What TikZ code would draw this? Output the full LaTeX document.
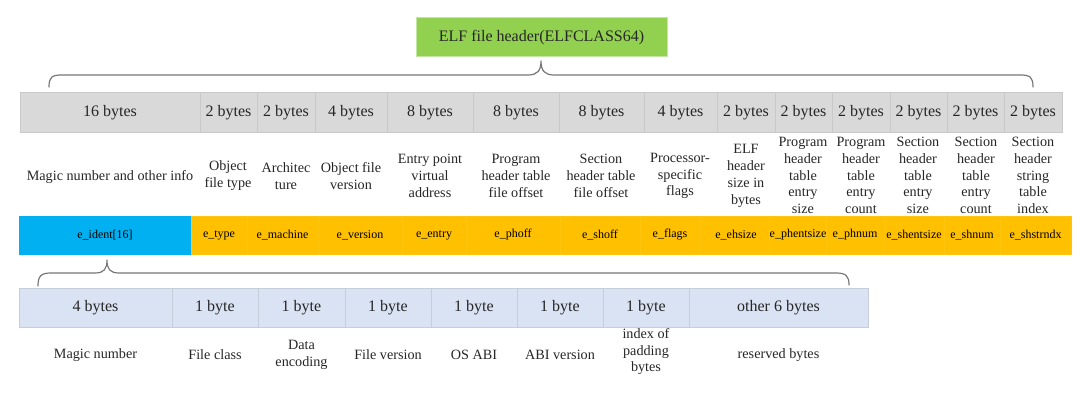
\documentclass[tikz,border=0pt]{standalone}
\usepackage{fontspec}
\setmainfont{Liberation Serif}
\definecolor{greyfill}{HTML}{D9D9D9}
\definecolor{greyline}{HTML}{C9C9C9}
\definecolor{yel}{HTML}{FFC000}
\definecolor{yelline}{HTML}{FFC50F}
\definecolor{cyanfill}{HTML}{00B0F0}
\definecolor{greenfill}{HTML}{92D050}
\definecolor{greenline}{HTML}{C4E6A4}
\definecolor{paleblue}{HTML}{DAE3F3}
\definecolor{palebline}{HTML}{C6CEDC}
\definecolor{txt}{HTML}{262626}
\definecolor{bracecol}{HTML}{767676}
\begin{document}
\begin{tikzpicture}[x=1pt,y=-1pt,
  cell/.style={rectangle, inner sep=0pt, outer sep=0pt, line width=0.6pt, text=txt},
  sizefont/.style={font=\fontsize{16}{19}\selectfont},
  descfont/.style={font=\fontsize{14.2}{16.8}\selectfont, align=center, text=txt, inner sep=0pt},
  fieldfont/.style={font=\fontsize{12}{14}\selectfont, text=black},
  brace/.style={draw=bracecol, line width=1.2pt, line cap=round, line join=round},
  titlebox/.style={rectangle, fill=greenfill, draw=greenline, line width=0.6pt, inner sep=0pt,
    minimum width=251pt, minimum height=39pt, font=\fontsize{16}{19}\selectfont, text=txt}]
\path[use as bounding box] (0,0) rectangle (1080,401);

% title
\node[titlebox] (title) at (541.5,37.2) {ELF file header(ELFCLASS64)};

% top brace
\coordinate (tbl) at (49,87);
\coordinate (tbt) at (541,61);
\coordinate (tbr) at (1033,87);
\draw[brace] (tbl) .. controls (49,77) and (52,75) .. (62,75) -- (528,75)
  .. controls (537,75) and (541,71) .. (tbt)
  .. controls (541,71) and (545,75) .. (554,75) -- (1020,75)
  .. controls (1030,75) and (1033,77) .. (tbr);

% size row
\foreach \a/\b/\t [count=\i] in {20/200/16 bytes,200/257/2 bytes,257/315/2 bytes,315/387/4 bytes,
  387/473/8 bytes,473/559/8 bytes,559/644/8 bytes,644/717/4 bytes,717/775/2 bytes,775/832/2 bytes,
  832/890/2 bytes,890/947/2 bytes,947/1004/2 bytes,1004/1062/2 bytes}
  \node[cell, sizefont, fill=greyfill, draw=greyline, minimum width={(\b-\a)*1pt},
        minimum height=39.5pt] (g\i) at ({(\a+\b)/2},112.25) {\t};

% field row
\node[cell, fieldfont, fill=cyanfill, draw=cyanfill, minimum width=172pt, minimum height=38pt]
  (f0) at (105,235) {e\_ident[16]};
\foreach \a/\b/\t [count=\i] in {191/247/e\_type,247/318/e\_machine,318/402/e\_version,
  402/466/e\_entry,466/560/e\_phoff,560/640/e\_shoff,640/700/e\_flags,700/772/e\_ehsize,
  770/826/e\_phentsize,826/884/e\_phnum,884/944/e\_shentsize,944/1000/e\_shnum,1000/1071/e\_shstrndx}
  \node[cell, fieldfont, fill=yel, draw=yelline, minimum width={(\b-\a)*1pt},
        minimum height=38pt] (f\i) at ({(\a+\b)/2},235) {\t};

% description row
\foreach \c/\yy/\t [count=\i] in {110/177/{Magic number and other info},
  228/176/{Object\\file type}, 286/176/{Architec\\ture}, 351/176/{Object file\\version},
  430/176/{Entry point\\virtual\\address}, 516/176/{Program\\header table\\file offset},
  601/176/{Section\\header table\\file offset}, 680/176/{Processor-\\specific\\flags},
  746/176/{ELF\\header\\size in\\bytes}, 803/175.5/{Program\\header\\table\\entry\\size},
  861/175.5/{Program\\header\\table\\entry\\count}, 918/175.5/{Section\\header\\table\\entry\\size},
  976/175.5/{Section\\header\\table\\entry\\count}, 1033/175.5/{Section\\header\\string\\table\\index}}
  \node[descfont] (d\i) at (\c,\yy) {\t};

% bottom brace
\coordinate (bbl) at (38,286);
\coordinate (bbt) at (107,260);
\coordinate (bbr) at (849,285);
\draw[brace] (bbl) .. controls (38,276) and (41,273) .. (51,273) -- (95,273)
  .. controls (104,273) and (107,269) .. (bbt)
  .. controls (107,269) and (110,273) .. (119,273) -- (836,273)
  .. controls (846,273) and (849,276) .. (bbr);

% e_ident size row
\foreach \a/\b/\t [count=\i] in {19/172/4 bytes,172/258/1 byte,258/345/1 byte,345/431/1 byte,
  431/517/1 byte,517/603/1 byte,603/689/1 byte,689/868/other 6 bytes}
  \node[cell, sizefont, fill=paleblue, draw=palebline, minimum width={(\b-\a)*1pt},
        minimum height=39pt] (b\i) at ({(\a+\b)/2},307.5) {\t};

% e_ident description row
\foreach \c/\yy/\t [count=\i] in {95.5/355/{Magic number}, 215/355/{File class},
  301.5/354.5/{Data\\encoding}, 388/355/{File version}, 474/355/{OS ABI},
  560/355/{ABI version}, 646/351.7/{index of\\padding\\bytes}, 778.5/355/{reserved bytes}}
  \node[descfont] (l\i) at (\c,\yy) {\t};
\end{tikzpicture}
\end{document}
